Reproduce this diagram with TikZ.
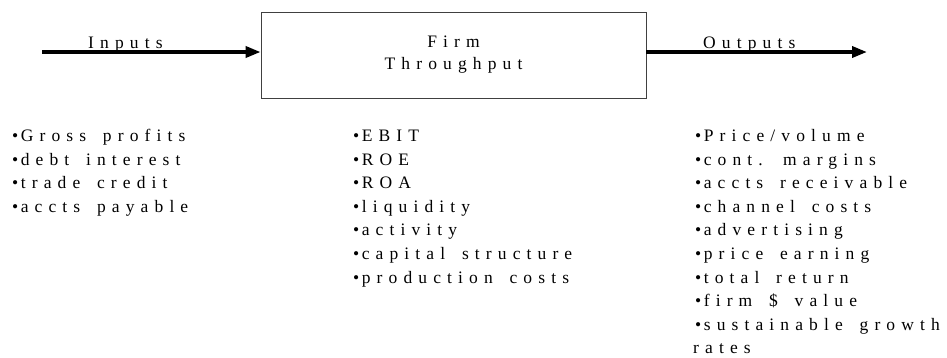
\documentclass[tikz,border=0pt]{standalone}
\usepackage{fontspec}
\setmainfont{Liberation Serif}[LetterSpace=35,WordSpace=1.6]
\usetikzlibrary{arrows.meta}

\tikzset{
  item/.style={anchor=base west, inner sep=0pt, font=\fontsize{17.5}{23.6}\selectfont},
  flow/.style={-{Triangle[length=15pt,width=11pt]}, line width=3.5pt},
}
\newcommand{\itembullet}{\textbullet\kern2.5pt}

\begin{document}
\begin{tikzpicture}[x=1pt,y=-1pt]
        \useasboundingbox (0,0) rectangle (947,357);

        % 绘制中间的方框
        \node[draw=black!75, line width=0.8pt, minimum width=385pt, minimum height=86pt,
              inner sep=0pt, align=center, font=\fontsize{17.5}{22}\selectfont]
              (firm) at (453.5,55) {Firm\\Throughput};

        % 绘制输入和输出箭头
        \coordinate (inStart) at (42,52);
        \coordinate (outEnd) at (867,52);
        \draw[flow] (inStart) -- (inStart -| firm.west);
        \draw[flow] (firm.east |- outEnd) -- (outEnd);
        \node[item] (inLabel) at (88,48) {Inputs};
        \node[item] (outLabel) at (703,48) {Outputs};

        % 标记三列条目
        \foreach \t [count=\i] in {Gross profits,debt interest,trade credit,accts payable}
        {
          \node[item] (in\i) at (12,{141.5+(\i-1)*23.6}) {\itembullet\t};
        }
        \foreach \t [count=\i] in {EBIT,ROE,ROA,liquidity,activity,capital structure,production costs}
        {
          \node[item] (thru\i) at (353,{141.5+(\i-1)*23.6}) {\itembullet\t};
        }
        \foreach \t [count=\i] in {Price/volume,cont. margins,accts receivable,channel costs,advertising,price earning,total return,firm \$ value,sustainable growth}
        {
          \node[item] (out\i) at (695,{141.5+(\i-1)*23.6}) {\itembullet\t};
        }
        \node[item] (outRates) at (693,{141.5+9*23.6}) {rates};

\end{tikzpicture}
\end{document}
